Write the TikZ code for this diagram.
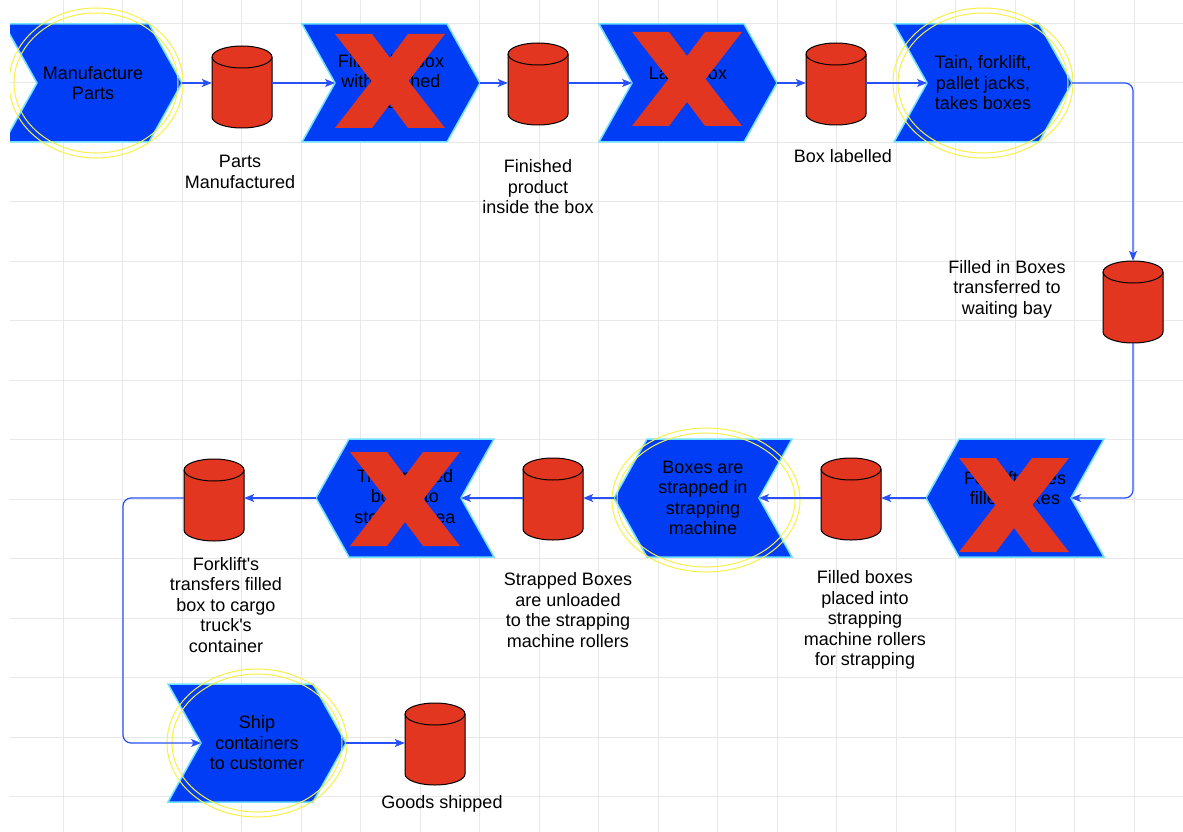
\documentclass[tikz,border=0pt]{standalone}
\usepackage{fontspec}
\setmainfont{Liberation Sans}
\usetikzlibrary{arrows.meta}

\definecolor{chevblue}{RGB}{0,61,245}
\definecolor{chevedge}{RGB}{110,225,255}
\definecolor{storered}{RGB}{226,54,32}
\definecolor{flowblue}{RGB}{40,80,250}
\definecolor{ringyellow}{RGB}{248,240,70}
\definecolor{gridgray}{RGB}{232,232,232}

\tikzset{
  steptext/.style={align=center,inner sep=0pt,text=black,font=\fontsize{18}{20.5}\selectfont},
  flow/.style={draw=flowblue,line width=1.2pt,rounded corners=8pt,
    -{Stealth[length=10pt,width=8pt,inset=2.5pt]}},
  ring/.style={draw=ringyellow,line width=1pt},
  gridline/.style={draw=gridgray,line width=0.6pt},
  % chevron pointing right / left
  chevright/.pic={
    \filldraw[fill=chevblue,draw=chevedge,line width=1.5pt]
      (-89,-59) -- (56,-59) -- (89,0) -- (56,59) -- (-89,59) -- (-56,0) -- cycle;
    \coordinate (-in) at (-56,0);
    \coordinate (-out) at (89,0);
    \node[steptext] (-txt) at (0,0) {#1};
  },
  chevleft/.pic={
    \filldraw[fill=chevblue,draw=chevedge,line width=1.5pt]
      (89,-59) -- (-56,-59) -- (-89,0) -- (-56,59) -- (89,59) -- (56,0) -- cycle;
    \coordinate (-in) at (56,0);
    \coordinate (-out) at (-89,0);
    \node[steptext] (-txt) at (0,0) {#1};
  },
  % data store drum
  drum/.pic={
    \node[minimum width=60pt,minimum height=82pt,inner sep=0pt] (-body) at (0,0) {};
    \filldraw[fill=storered,draw=black,line width=1pt]
      (-30,-30) -- (-30,30) arc[start angle=180,end angle=0,x radius=30,y radius=11]
      -- (30,-30) arc[start angle=0,end angle=-180,x radius=30,y radius=11] -- cycle;
    \draw[black,line width=1pt] (-30,-30) arc[start angle=180,end angle=0,x radius=30,y radius=11];
  },
  cross/.pic={
    \fill[storered] (-55,-47) -- (-18,-47) -- (0,-23) -- (18,-47) -- (55,-47) -- (18.5,0)
      -- (55,47) -- (18,47) -- (0,23) -- (-18,47) -- (-55,47) -- (-18.5,0) -- cycle;
  }
}

\begin{document}
\begin{tikzpicture}[x=1pt,y=-1pt]
  \useasboundingbox (0,0) rectangle (1183,832);
  \fill[white] (0,0) rectangle (1183,832);
  \clip (10,0) rectangle (1183,832);
  \foreach \i in {1,...,19} \draw[gridline] (3.5+59.5*\i,0) -- (3.5+59.5*\i,832);
  \foreach \j in {0,...,13} \draw[gridline] (10,23+59.5*\j) -- (1183,23+59.5*\j);

  % process steps
  \pic (ch1) at (93,83)    {chevright={Manufacture\\Parts}};
  \pic (ch2) at (391,83)   {chevright={Fill in the box\\with finished\\goods}};
  \pic (ch3) at (688,83)   {chevright={Label box\\\mbox{}}};
  \pic (ch4) at (983,83)   {chevright={Tain, forklift,\\pallet jacks,\\takes boxes}};
  \pic (ch5) at (1015,498) {chevleft={Forklift takes\\filled boxes\\\mbox{}}};
  \pic (ch6) at (703,498)  {chevleft={Boxes are\\strapped in\\strapping\\machine}};
  \pic (ch7) at (405,498)  {chevleft={Transported\\boxes to\\storage area}};
  \pic (ch8) at (257,743)  {chevright={Ship\\containers\\to customer}};

  % highlighted steps
  \draw[ring] (96,83) ellipse [x radius=87,y radius=75] (96,83) ellipse [x radius=82,y radius=70];
  \draw[ring] (983,83) ellipse [x radius=90,y radius=75] (983,83) ellipse [x radius=85,y radius=70];
  \draw[ring] (706,500) ellipse [x radius=94,y radius=72] (706,500) ellipse [x radius=89,y radius=67];
  \draw[ring] (257,743) ellipse [x radius=90,y radius=74] (257,743) ellipse [x radius=85,y radius=69];

  % removed steps
  \pic at (390,81)  {cross};
  \pic at (687,79)  {cross};
  \pic at (1014,505) {cross};
  \pic at (405,499) {cross};

  % stores
  \pic (c1) at (242,87)  {drum};
  \pic (c2) at (538,84)  {drum};
  \pic (c3) at (836,84)  {drum};
  \pic (c4) at (1133,302) {drum};
  \pic (c5) at (851,499) {drum};
  \pic (c6) at (553,499) {drum};
  \pic (c7) at (214,500) {drum};
  \pic (c8) at (435,744) {drum};

  \node[steptext] (l1) at (240,172)  {Parts\\Manufactured};
  \node[steptext] (l2) at (538,187)  {Finished\\product\\inside the box};
  \node[steptext] (l3) at (843,156)  {Box labelled};
  \node[steptext] (l4) at (1007,289) {Filled in Boxes\\transferred to\\waiting bay};
  \node[steptext] (l5) at (865,620)  {Filled boxes\\placed into\\strapping\\machine rollers\\for strapping};
  \node[steptext] (l6) at (568,610)  {Strapped Boxes\\are unloaded\\to the strapping\\machine rollers};
  \node[steptext] (l7) at (226,605)  {Forklift\textquotesingle s\\transfers filled\\box to cargo\\truck\textquotesingle s\\container};
  \node[steptext] (l8) at (442,804)  {Goods shipped};

  % flow
  \coordinate (drop) at (123,620);
  \draw[flow] (ch1-out) -- (ch1-out -| c1-body.west);
  \draw[flow] (c1-body.east |- ch2-in) -- (ch2-in);
  \draw[flow] (ch2-out) -- (ch2-out -| c2-body.west);
  \draw[flow] (c2-body.east |- ch3-in) -- (ch3-in);
  \draw[flow] (ch3-out) -- (ch3-out -| c3-body.west);
  \draw[flow] (c3-body.east |- ch4-in) -- (ch4-in);
  \draw[flow] (ch4-out) -| (c4-body.north);
  \draw[flow] (c4-body.south) |- (ch5-in);
  \draw[flow] (ch5-out) -- (ch5-out -| c5-body.east);
  \draw[flow] (c5-body.west |- ch6-in) -- (ch6-in);
  \draw[flow] (ch6-out) -- (ch6-out -| c6-body.east);
  \draw[flow] (c6-body.west |- ch7-in) -- (ch7-in);
  \draw[flow] (ch7-out) -- (ch7-out -| c7-body.east);
  \draw[flow] (c7-body.west |- ch7-out) -| (drop) |- (ch8-in);
  \draw[flow] (ch8-out) -- (ch8-out -| c8-body.west);
\end{tikzpicture}
\end{document}
